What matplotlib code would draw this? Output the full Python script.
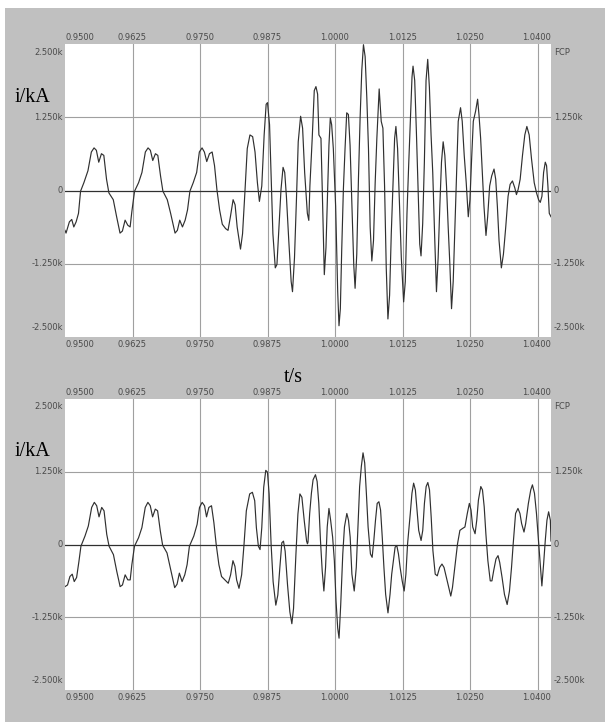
import matplotlib
matplotlib.use("Agg")
import matplotlib.pyplot as plt
from matplotlib.patches import Rectangle
import matplotlib.transforms as mtransforms
import numpy as np

# ---- data (t in ms, i in A) ----
t_fault1 = [950.0, 950.19, 950.81, 951.25, 951.63, 952.06, 952.5, 952.88, 953.5, 954.25,
            954.88, 955.38, 955.81, 956.25, 956.75, 957.19, 957.69, 958.13, 958.94, 959.56,
            960.19, 960.63, 961.13, 961.63, 962.06, 962.38, 962.88, 963.63, 964.25, 964.88,
            965.38, 965.81, 966.25, 966.75, 967.19, 967.69, 968.13, 968.94, 969.56, 970.38,
            970.81, 971.25, 971.75, 972.25, 972.69, 973.13, 973.75, 974.38, 974.88, 975.38,
            975.81, 976.25, 976.75, 977.25, 977.69, 978.13, 978.63, 979.13, 979.75, 980.19,
            980.63, 981.13, 981.5, 981.88, 982.25, 982.5, 982.88, 983.31, 983.75, 984.25,
            984.75, 985.19, 985.63, 986.0, 986.44, 986.88, 987.25, 987.5, 987.88, 988.19,
            988.5, 988.94, 989.25, 989.63, 990.0, 990.38, 990.69, 991.0, 991.44, 991.88,
            992.13, 992.5, 992.88, 993.19, 993.63, 994.0, 994.38, 994.88, 995.15, 995.35,
            995.78, 996.16, 996.47, 996.78, 997.02, 997.40, 997.64, 997.89, 998.02, 998.33,
            998.57, 998.88, 999.13, 999.38, 999.69, 1000.12, 1000.50, 1000.74, 1000.99, 1001.24,
            1001.55, 1001.86, 1002.17, 1002.48, 1002.79, 1003.10, 1003.47, 1003.72, 1004.03, 1004.34,
            1004.65, 1004.96, 1005.27, 1005.58, 1005.89, 1006.20, 1006.51, 1006.82, 1007.13, 1007.44,
            1007.75, 1008.18, 1008.56, 1008.87, 1009.18, 1009.49, 1009.80, 1010.11, 1010.42, 1010.73,
            1011.04, 1011.28, 1011.59, 1011.90, 1012.28, 1012.71, 1013.02, 1013.33, 1013.64, 1013.95,
            1014.26, 1014.45, 1014.76, 1015.07, 1015.38, 1015.69, 1015.93, 1016.24, 1016.55, 1016.86,
            1017.17, 1017.48, 1017.79, 1018.10, 1018.48, 1018.79, 1019.10, 1019.41, 1019.72, 1020.03,
            1020.34, 1020.65, 1020.96, 1021.27, 1021.58, 1021.89, 1022.20, 1022.51, 1022.82, 1023.25,
            1023.56, 1023.93, 1024.30, 1024.68, 1024.99, 1025.30, 1025.61, 1026.04, 1026.41, 1026.66,
            1026.97, 1027.28, 1027.59, 1027.96, 1028.27, 1028.64, 1029.02, 1029.45, 1029.76, 1030.07,
            1030.38, 1030.81, 1031.19, 1031.62, 1032.05, 1032.43, 1032.86, 1033.29, 1033.60, 1033.91,
            1034.29, 1034.72, 1035.15, 1035.53, 1035.96, 1036.39, 1036.89, 1037.32, 1037.70, 1038.01,
            1038.32, 1038.63, 1038.94, 1039.18, 1039.43, 1039.68, 1040.0]
i_fault1 = [-680, -727, -535, -494, -622, -535, -390, -12, 134, 337,
            657, 727, 686, 483, 628, 599, 192, -41, -157, -448,
            -727, -692, -506, -593, -622, -360, -12, 134, 308, 657,
            727, 686, 512, 628, 599, 250, -12, -157, -390, -727,
            -680, -506, -622, -506, -331, -12, 134, 308, 657, 727,
            657, 494, 628, 657, 424, 17, -331, -576, -651, -680,
            -448, -157, -244, -622, -855, -1000, -738, -41, 715, 948,
            919, 657, 134, -186, 76, 948, 1471, 1500, 1122, 192,
            -738, -1320, -1262, -622, 17, 395, 308, -99, -855, -1552,
            -1727, -1145, -99, 831, 1267, 1064, 308, -390, -510, 76,
            890, 1704, 1773, 1645, 948, 890, 17, -971, -1436, -971,
            -215, 773, 1238, 1122, 715, -273, -1727, -2308, -2017, -1029,
            17, 715, 1326, 1297, 773, -157, -1262, -1669, -1087, 192,
            1238, 2052, 2488, 2285, 1587, 715, -622, -1203, -855, 134,
            890, 1733, 1180, 1064, 76, -1320, -2192, -1785, -738, 76,
            890, 1093, 715, -99, -1145, -1901, -1552, -390, 424, 1180,
            1936, 2122, 1878, 1006, 17, -913, -1116, -564, 483, 1878,
            2238, 1762, 948, 308, -855, -1727, -1145, -273, 483, 831,
            599, 76, -622, -1262, -2017, -1552, -622, 308, 1180, 1413,
            1180, 599, 134, -448, -157, 541, 1180, 1355, 1558, 1297,
            890, 308, -273, -767, -448, 76, 250, 366, 192, -273,
            -855, -1320, -1087, -622, -99, 105, 163, 47, -70, 17,
            192, 599, 948, 1093, 948, 541, 134, -41, -157, -203,
            -99, 308, 483, 424, 76, -390, -448]

t_fault2 = [950.0, 950.47, 950.91, 951.34, 951.71, 952.15, 952.58, 952.95, 953.70, 954.32,
            954.94, 955.43, 955.87, 956.30, 956.80, 957.23, 957.73, 958.16, 958.97, 959.59,
            960.21, 960.64, 961.14, 961.63, 962.07, 962.38, 962.87, 963.62, 964.24, 964.86,
            965.35, 965.79, 966.22, 966.72, 967.15, 967.65, 968.08, 968.89, 969.51, 970.31,
            970.75, 971.18, 971.68, 972.18, 972.61, 973.04, 973.85, 974.47, 974.91, 975.40,
            975.84, 976.21, 976.64, 977.13, 977.57, 978.00, 978.50, 978.99, 979.61, 980.23,
            980.67, 981.10, 981.47, 981.78, 982.22, 982.71, 983.15, 983.58, 984.20, 984.70,
            985.13, 985.44, 985.81, 986.12, 986.44, 986.80, 987.18, 987.49, 987.80, 988.17,
            988.54, 989.04, 989.41, 989.78, 990.15, 990.46, 990.77, 991.21, 991.64, 992.01,
            992.32, 992.76, 993.13, 993.50, 993.87, 994.31, 994.74, 994.9, 995.0, 995.31,
            995.63, 995.94, 996.38, 996.69, 997.0, 997.31, 997.63, 997.94, 998.25, 998.56,
            998.88, 999.19, 999.56, 999.88, 1000.19, 1000.50, 1000.75, 1001.06, 1001.44, 1001.75,
            1002.19, 1002.50, 1002.81, 1003.13, 1003.56, 1003.94, 1004.25, 1004.56, 1004.88, 1005.19,
            1005.50, 1005.81, 1006.13, 1006.56, 1006.88, 1007.19, 1007.5, 1007.81, 1008.13, 1008.44,
            1008.75, 1009.06, 1009.38, 1009.81, 1010.19, 1010.5, 1010.81, 1011.13, 1011.44, 1011.75,
            1012.06, 1012.44, 1012.81, 1013.13, 1013.44, 1013.94, 1014.25, 1014.56, 1014.88, 1015.19,
            1015.5, 1015.94, 1016.25, 1016.56, 1016.88, 1017.19, 1017.5, 1017.81, 1018.13, 1018.56,
            1018.94, 1019.38, 1019.81, 1020.19, 1020.63, 1021.06, 1021.44, 1021.75, 1022.19, 1022.69,
            1023.13, 1023.56, 1024.06, 1024.5, 1024.88, 1025.19, 1025.5, 1025.94, 1026.25, 1026.56,
            1027.0, 1027.31, 1027.63, 1027.94, 1028.31, 1028.75, 1029.06, 1029.38, 1029.81, 1030.19,
            1030.5, 1030.94, 1031.38, 1031.88, 1032.31, 1032.69, 1033.0, 1033.44, 1033.88, 1034.25,
            1034.56, 1035.0, 1035.31, 1035.81, 1036.25, 1036.56, 1036.94, 1037.31, 1037.63, 1037.94,
            1038.31, 1038.63, 1038.94, 1039.25, 1039.56, 1039.88, 1040.0]
i_fault2 = [-724, -695, -550, -510, -637, -567, -290, -29, 145, 318,
            637, 724, 666, 475, 637, 579, 174, -29, -174, -463,
            -724, -695, -521, -608, -608, -347, -29, 116, 290, 637,
            724, 666, 475, 608, 579, 232, -12, -145, -405, -741,
            -683, -492, -637, -521, -347, -29, 145, 347, 637, 724,
            666, 475, 637, 666, 376, 0, -347, -550, -608, -666,
            -521, -278, -376, -608, -753, -521, 0, 579, 869, 897,
            753, 290, -29, -87, 290, 984, 1274, 1245, 869, 0,
            -637, -1042, -869, -405, 29, 58, -116, -695, -1158, -1361,
            -1100, -174, 521, 869, 811, 405, 58, 12, 41, 533,
            880, 1112, 1199, 1083, 706, 69, -452, -799, -394, 301,
            620, 417, 127, -278, -973, -1436, -1610, -1031, -162, 301,
            533, 417, 127, -510, -799, -394, 301, 996, 1343, 1575,
            1401, 880, 301, -162, -220, 69, 417, 706, 735, 591,
            127, -394, -857, -1175, -857, -510, -278, -46, -17, -162,
            -394, -625, -799, -510, 12, 533, 880, 1054, 938, 591,
            243, 69, 243, 706, 996, 1065, 938, 475, -104, -510,
            -538, -394, -336, -394, -567, -741, -886, -741, -394, 12,
            243, 272, 301, 533, 706, 591, 301, 185, 417, 764,
            996, 938, 648, 185, -278, -625, -625, -452, -249, -191,
            -307, -567, -857, -1031, -799, -394, 12, 533, 620, 533,
            359, 214, 359, 706, 938, 1025, 880, 533, 127, -278,
            -712, -336, 69, 417, 562, 417, 60]

x_labels = ["0.9500", "0.9625", "0.9750", "0.9875", "1.0000", "1.0125", "1.0250", "1.0400"]
x_label_pos = [950.0, 962.5, 975.0, 987.5, 1000.0, 1012.5, 1025.0, 1040.0]
x_grid = [962.5, 975.0, 987.5, 1000.0, 1012.5, 1025.0, 1037.5]
y_ticks = [2500, 1250, 0, -1250, -2500]
y_left_labels = ["2.500k", "1.250k", "0", "-1.250k", "-2.500k"]
y_right_labels = ["FCP", "1.250k", "0", "-1.250k", "-2.500k"]

W, H = 605, 722
fig = plt.figure(figsize=(W / 100, H / 100), dpi=100)
fig.patch.set_facecolor("white")
fig.patches.append(Rectangle((5 / W, 0), 1 - 5 / W, 1 - 8 / H, transform=fig.transFigure,
                             facecolor="#c0c0c0", edgecolor="none", zorder=-10))

serif = "Liberation Serif"
tick_col = "#4a4a4a"
tick_fs = 6.0


def panel(rect, t, i):
    ax = fig.add_axes(rect)
    ax.set_facecolor("white")
    for s in ax.spines.values():
        s.set_visible(False)
    ax.set_xlim(950, 1040)
    ax.set_ylim(-2500, 2500)
    ax.set_xticks([])
    ax.set_yticks([])
    for g in x_grid:
        ax.axvline(g, color="#a0a0a0", lw=0.8, zorder=1)
    for v in (1250, -1250):
        ax.axhline(v, color="#a0a0a0", lw=0.8, zorder=1)
    ax.axhline(0, color="#303030", lw=0.9, zorder=1)
    ax.plot(t, i, color="#303030", lw=0.85, zorder=3)

    # x labels at top and bottom
    for k, (p, lab) in enumerate(zip(x_label_pos, x_labels)):
        ha = "left" if k == 0 else ("right" if k == len(x_labels) - 1 else "center")
        tr_top = mtransforms.offset_copy(ax.get_xaxis_transform(), fig=fig, y=1.5, units="points")
        tr_bot = mtransforms.offset_copy(ax.get_xaxis_transform(), fig=fig, y=-2, units="points")
        ax.text(p, 1, lab, transform=tr_top, ha=ha, va="bottom", fontsize=tick_fs, color=tick_col)
        ax.text(p, 0, lab, transform=tr_bot, ha=ha, va="top", fontsize=tick_fs, color=tick_col)

    # y labels left and right
    for k, v in enumerate(y_ticks):
        va = "top" if k == 0 else ("bottom" if k == len(y_ticks) - 1 else "center")
        tr_l = mtransforms.offset_copy(ax.get_yaxis_transform(), fig=fig, x=-1.5, units="points")
        tr_r = mtransforms.offset_copy(ax.get_yaxis_transform(), fig=fig, x=2, units="points")
        yl = v - 60 if k == 0 else (v + 80 if k == len(y_ticks) - 1 else v)
        ax.text(0, yl, y_left_labels[k], transform=tr_l, ha="right", va=va,
                fontsize=tick_fs, color=tick_col)
        ax.text(1, yl, y_right_labels[k], transform=tr_r, ha="left", va=va,
                fontsize=tick_fs, color=tick_col)
    return ax


ax1 = panel([65 / W, 1 - 337 / H, 486 / W, 293 / H], t_fault1, i_fault1)
ax2 = panel([65 / W, 1 - 690 / H, 486 / W, 291 / H], t_fault2, i_fault2)

fig.text(15 / W, 1 - 98 / H, "i/kA", family=serif, fontsize=14.5, ha="left", va="center")
fig.text(15 / W, 1 - 452 / H, "i/kA", family=serif, fontsize=14.5, ha="left", va="center")
fig.text(293 / W, 1 - 377 / H, "t/s", family=serif, fontsize=14.5, ha="center", va="center")

fig.savefig("out.png", dpi=100)
